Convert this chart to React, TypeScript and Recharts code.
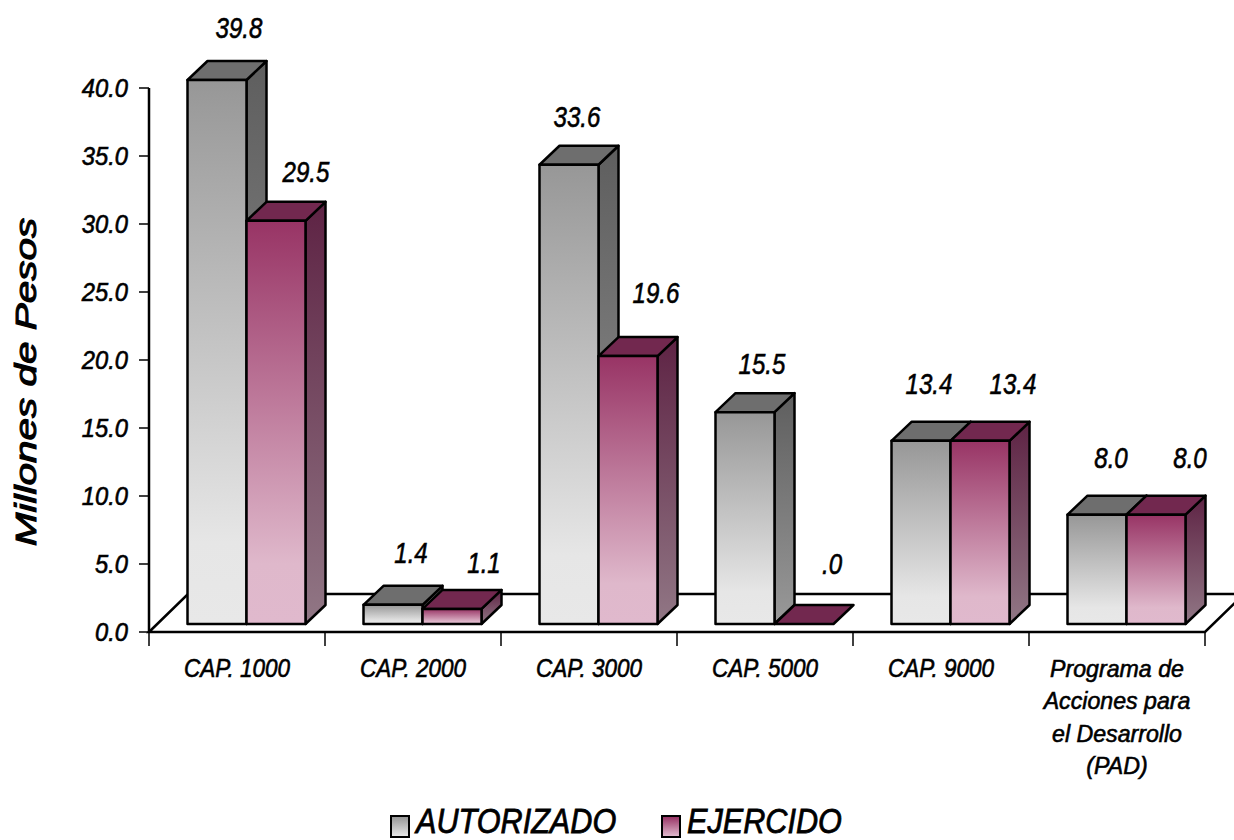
import React from 'react';
import { BarChart, Bar, XAxis, YAxis, Legend, LabelList, usePlotArea } from 'recharts';

const categories = ['CAP. 1000', 'CAP. 2000', 'CAP. 3000', 'CAP. 5000', 'CAP. 9000', 'Programa de\nAcciones para\nel Desarrollo\n(PAD)'];
const autorizado = [39.8, 1.4, 33.6, 15.5, 13.4, 8.0];
const ejercido = [29.5, 1.1, 19.6, 0, 13.4, 8.0];
const yTicks = [0, 5, 10, 15, 20, 25, 30, 35, 40];

const data = categories.map((name, i) => ({ name, autorizado: autorizado[i], ejercido: ejercido[i] }));

const FONT = '"Liberation Sans", Arial, sans-serif';
const DEPTH_X = 20;
const DEPTH_Y = 19;
const SHIFT_X = 9.5;
const BASE_UP = 8;
const HEIGHT_K = 1.005;
const FLOOR_X = 39;
const FLOOR_Y = 38;

// placement of the value labels relative to the bar (layout, not data)
const autorizadoLabelDx = [22, 18, 8, 17, 8, 14];
const autorizadoLabelDy = [-23, -23, -19, -19, -28, -28];
const ejercidoLabelDx = [30, 32, 28, 28, 33, 34];
const ejercidoLabelDy = [-20, -17, -34, -31, -28, -28];

const Squeezed = ({ x, y, sx = 0.83, size = 29, anchor = 'middle', children, rotate = 0, weight = 0.6 }: any) => (
  <text
    transform={`translate(${x},${y}) rotate(${rotate}) scale(${sx},1)`}
    textAnchor={anchor}
    fontFamily={FONT}
    fontStyle="italic"
    fontSize={size}
    fill="#000"
    stroke="#000"
    strokeWidth={weight}
  >
    {children}
  </text>
);

const geom = (x: number, y: number, w: number, h: number) => {
  const base = y + h - BASE_UP;
  const hh = h * HEIGHT_K;
  return { x0: x + SHIFT_X, x1: x + SHIFT_X + w, top: base - hh, base };
};

const makeBar = (id: string, topFill: string) => (props: any) => {
  const { x0, x1, top, base } = geom(props.x, props.y, props.width, props.height);
  const flat = props.height < 0.5;
  return (
    <g stroke="#000" strokeWidth={2.5} strokeLinejoin="round">
      {!flat && (
        <path
          d={`M${x1},${top} L${x1 + DEPTH_X},${top - DEPTH_Y} L${x1 + DEPTH_X},${base - DEPTH_Y} L${x1},${base} Z`}
          fill={`url(#${id}Side)`}
        />
      )}
      <path
        d={`M${x0},${top} L${x0 + DEPTH_X},${top - DEPTH_Y} L${x1 + DEPTH_X},${top - DEPTH_Y} L${x1},${top} Z`}
        fill={topFill}
      />
      {!flat && <rect x={x0} y={top} width={x1 - x0} height={base - top} fill={`url(#${id}Front)`} />}
    </g>
  );
};

const makeLabel = (dxs: number[], dys: number[]) => (props: any) => {
  const { x, y, width, height, value, index } = props;
  const { x0, x1, top } = geom(x, y, width, height);
  const text = Number(value).toFixed(1).replace(/^0\./, '.');
  return (
    <Squeezed x={(x0 + x1) / 2 + dxs[index]} y={top - DEPTH_Y + dys[index]}>
      {text}
    </Squeezed>
  );
};

const Floor = () => {
  const p = usePlotArea();
  if (!p) return null;
  const bottom = p.y + p.height;
  const right = p.x + p.width;
  const step = p.width / categories.length;
  return (
    <g stroke="#000" strokeWidth={2.5} fill="none">
      <path
        d={`M${p.x},${bottom} L${p.x + FLOOR_X},${bottom - FLOOR_Y} L${right + FLOOR_X},${bottom - FLOOR_Y} L${right},${bottom} Z`}
      />
      {categories.concat('').map((_, i) => (
        <line key={i} x1={p.x + step * i} x2={p.x + step * i} y1={bottom} y2={bottom + 14} strokeWidth={1.5} />
      ))}
    </g>
  );
};

const XTick = ({ x, y, payload }: any) => {
  const lines = String(payload.value).split('\n');
  const multi = lines.length > 1;
  return (
    <g>
      {lines.map((l: string, i: number) => (
        <Squeezed key={i} x={x} y={y + 37 + i * 32.3} size={multi ? 24 : 25} sx={multi ? 0.965 : 0.9}>
          {l}
        </Squeezed>
      ))}
    </g>
  );
};

const YTick = ({ x, y, payload }: any) => (
  <Squeezed x={x - 9} y={y + 9} anchor="end" size={25} sx={0.95}>
    {payload.value.toFixed(1)}
  </Squeezed>
);

const LegendBox = ({ payload }: any) => {
  const slots = [
    { box: 390, text: 416, css: 'linear-gradient(#979797,#e6e6e6)' },
    { box: 661, text: 687, css: 'linear-gradient(#983465,#e0b8cc)' },
  ];
  return (
    <div style={{ position: 'relative', width: 1234, height: 58 }}>
      {(payload || []).map((e: any, i: number) => (
        <React.Fragment key={e.value}>
          <div
            style={{
              position: 'absolute',
              left: slots[i].box,
              top: 33,
              width: 16,
              height: 19,
              border: '2px solid #000',
              background: slots[i].css,
            }}
          />
          <div
            style={{
              position: 'absolute',
              left: slots[i].text,
              top: 24,
              fontFamily: FONT,
              fontStyle: 'italic',
              fontSize: 35,
              lineHeight: '30px',
              color: '#000',
              whiteSpace: 'nowrap',
              transformOrigin: '0 0',
              transform: 'scale(0.875,1)',
              WebkitTextStroke: '0.8px #000',
            }}
          >
            {e.value}
          </div>
        </React.Fragment>
      ))}
    </div>
  );
};

const YTitle = () => (
  <Squeezed x={36} y={382} size={30} sx={1.35} rotate={-90} weight={1}>
    Millones de Pesos
  </Squeezed>
);

export default function App() {
  return (
    <div style={{ position: 'absolute', left: 0, top: 0, width: 1234, height: 840, background: '#fff' }}>
      <BarChart
        width={1234}
        height={840}
        data={data}
        margin={{ top: 88, right: 29, bottom: 0, left: 0 }}
        barSize={59}
        barGap={0}
      >
        <defs>
          <linearGradient id="greyFront" x1="0" y1="0" x2="0" y2="1">
            <stop offset="0" stopColor="#979797" />
            <stop offset="0.85" stopColor="#e6e6e6" />
            <stop offset="1" stopColor="#e8e8e8" />
          </linearGradient>
          <linearGradient id="greySide" x1="0" y1="0" x2="0" y2="1">
            <stop offset="0" stopColor="#5e5e5e" />
            <stop offset="1" stopColor="#999999" />
          </linearGradient>
          <linearGradient id="pinkFront" x1="0" y1="0" x2="0" y2="1">
            <stop offset="0" stopColor="#983465" />
            <stop offset="0.85" stopColor="#dfb8cb" />
            <stop offset="1" stopColor="#e0b9cd" />
          </linearGradient>
          <linearGradient id="pinkSide" x1="0" y1="0" x2="0" y2="1">
            <stop offset="0" stopColor="#5e2344" />
            <stop offset="1" stopColor="#917785" />
          </linearGradient>
        </defs>
        <Floor />
        <XAxis
          dataKey="name"
          height={150}
          tickLine={false}
          axisLine={false}
          interval={0}
          tick={<XTick />}
        />
        <YAxis
          width={149}
          domain={[0, 40]}
          ticks={yTicks}
          interval={0}
          tickSize={10}
          tick={<YTick />}
          axisLine={{ stroke: '#000', strokeWidth: 2.5 }}
          tickLine={{ stroke: '#000', strokeWidth: 1.5 }}
          label={<YTitle />}
        />
        <Legend verticalAlign="bottom" height={58} content={<LegendBox />} wrapperStyle={{ left: 0, bottom: 0, width: 1234 }} />
        <Bar dataKey="autorizado" name="AUTORIZADO" fill="#979797" isAnimationActive={false} shape={makeBar('grey', '#6e6e6e')}>
          <LabelList dataKey="autorizado" content={makeLabel(autorizadoLabelDx, autorizadoLabelDy)} />
        </Bar>
        <Bar dataKey="ejercido" name="EJERCIDO" fill="#983465" isAnimationActive={false} shape={makeBar('pink', '#72284f')}>
          <LabelList dataKey="ejercido" content={makeLabel(ejercidoLabelDx, ejercidoLabelDy)} />
        </Bar>
      </BarChart>
    </div>
  );
}
